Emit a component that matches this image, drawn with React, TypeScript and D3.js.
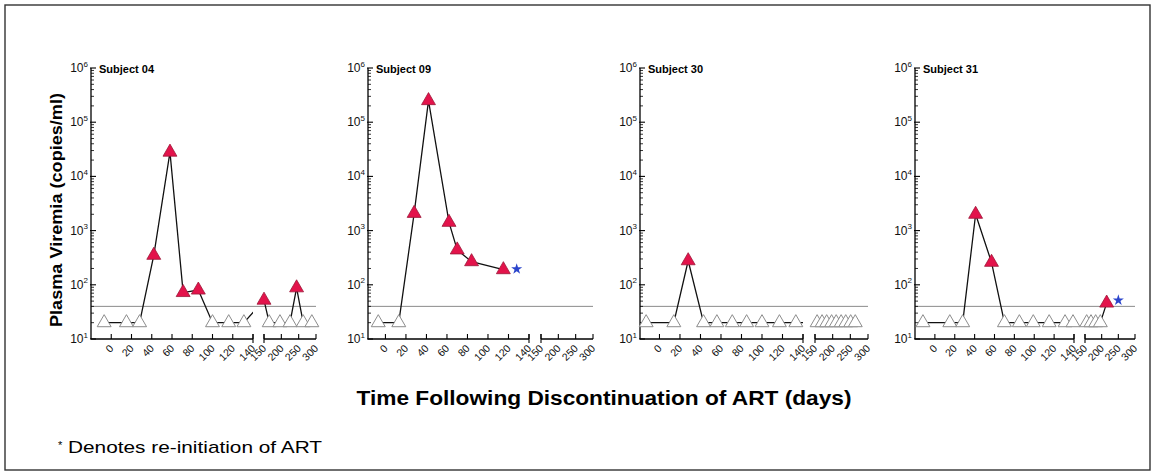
import React from "react";
import * as d3 from "d3";

// ---------- data ----------
const subjectNames = ["Subject 04", "Subject 09", "Subject 30", "Subject 31"];

const s04Days = [-7, 15, 28, 42, 58, 71, 86, 100, 116, 131, 150, 165, 196, 225, 244, 263, 288];
const s04Values = [20, 20, 20, 350, 28000, 72, 80, 20, 20, 20, 52, 20, 20, 20, 88, 20, 20];

const s09Days = [-7, 13, 28, 42, 62, 70, 84, 115];
const s09Values = [20, 20, 2080, 250000, 1420, 440, 267, 190];

const s30Days = [-13, 14, 28, 43, 56, 71, 85, 100, 117, 133, 156, 170, 183, 197, 210, 224, 237, 251, 264];
const s30Values = [20, 20, 278, 20, 20, 20, 20, 20, 20, 20, 20, 20, 20, 20, 20, 20, 20, 20, 20];

const s31Days = [-12, 15, 28, 41, 57, 70, 85, 99, 115, 131, 139, 155, 168, 182, 196, 215];
const s31Values = [20, 20, 20, 2000, 260, 20, 20, 20, 20, 20, 20, 20, 20, 20, 20, 46];

const reinitDays = [null, 128, null, 250];
const reinitValues = [null, 195, null, 52];

const detectionLimit = 40;
const xTicksLow = [0, 20, 40, 60, 80, 100, 120, 140];
const xTicksHigh = [150, 200, 250, 300];
const yMajorTicks = [10, 100, 1000, 10000, 100000, 1000000];

const allDays = [s04Days, s09Days, s30Days, s31Days];
const allValues = [s04Values, s09Values, s30Values, s31Values];

// ---------- layout ----------
const W = 1155;
const H = 475;
const panelLeft = [91, 368, 640, 915];
const seg1End = [253, 529, 803, 1074];
const seg2Start = [264, 541, 815, 1085];
const seg2End = [316, 593, 868, 1135];
const domainStart = [-20, -17, -19, -20];
const yTop = 68;
const yBottom = 339;
const FONT = "'Liberation Sans', Arial, Helvetica, sans-serif";
const RED = "#e3134b";

const y = d3.scaleLog().domain([10, 1e6]).range([yBottom, yTop]);

function makeX(i: number) {
  const s1 = d3.scaleLinear().domain([domainStart[i], 140]).range([panelLeft[i], seg1End[i]]);
  const s2 = d3.scaleLinear().domain([150, 300]).range([seg2Start[i], seg2End[i]]);
  const f = (d: number) =>
    d <= 140 ? s1(d) : d >= 150 ? s2(d) : s1(140) + ((d - 140) / 10) * (s2(150) - s1(140));
  return { s1, s2, f };
}

const triangle = d3.symbol().type(d3.symbolTriangle).size(84);
const star = d3.symbol().type(d3.symbolStar).size(38);

function Panel({ i }: { i: number }) {
  const { f } = makeX(i);
  const days = allDays[i];
  const vals = allValues[i];
  const pts = days.map((d, k) => ({ d, v: vals[k] }));
  const line = d3
    .line<{ d: number; v: number }>()
    .x((p) => f(p.d))
    .y((p) => y(p.v));
  const left = panelLeft[i];
  const minor: number[] = [];
  for (let e = 1; e < 6; e++) {
    for (let m = 2; m <= 9; m++) minor.push(m * Math.pow(10, e));
  }
  const clipId = `clip${i}`;
  return (
    <g>
      <defs>
        <clipPath id={clipId}>
          <rect x={left - 30} y={40} width={seg1End[i] - left + 30} height={320} />
          <rect x={seg2Start[i] - 1} y={40} width={seg2End[i] - seg2Start[i] + 30} height={320} />
        </clipPath>
      </defs>
      {/* detection limit */}
      <line
        x1={left}
        x2={seg2End[i]}
        y1={y(detectionLimit)}
        y2={y(detectionLimit)}
        stroke="#8a8a8a"
        strokeWidth={1}
      />
      {/* y axis */}
      <line x1={left} x2={left} y1={yTop} y2={yBottom} stroke="#000" strokeWidth={1.3} />
      {yMajorTicks.map((t) => (
        <g key={"M" + t}>
          <line x1={left - 1} x2={left + 5} y1={y(t)} y2={y(t)} stroke="#000" strokeWidth={1.1} />
          <text
            x={left - 3}
            y={y(t) + 4}
            textAnchor="end"
            fontFamily={FONT}
            fontSize={12}
            fill="#111"
          >
            10
            <tspan dy={-5.5} fontSize={8}>
              {String(Math.round(Math.log10(t)))}
            </tspan>
          </text>
        </g>
      ))}
      {minor.map((t) => (
        <line key={"m" + t} x1={left} x2={left + 3} y1={y(t)} y2={y(t)} stroke="#000" strokeWidth={0.8} />
      ))}
      {/* x axis */}
      <line x1={left} x2={seg1End[i]} y1={yBottom} y2={yBottom} stroke="#000" strokeWidth={1.3} />
      <line x1={seg2Start[i]} x2={seg2End[i]} y1={yBottom} y2={yBottom} stroke="#000" strokeWidth={1.3} />
      <line x1={seg1End[i]} x2={seg1End[i]} y1={yBottom - 5} y2={yBottom + 4} stroke="#000" strokeWidth={1.1} />
      <line x1={seg2Start[i]} x2={seg2Start[i]} y1={yBottom - 5} y2={yBottom + 4} stroke="#000" strokeWidth={1.1} />
      {[...xTicksLow, ...xTicksHigh].map((t) => (
        <g key={"x" + t}>
          <line x1={f(t)} x2={f(t)} y1={yBottom} y2={yBottom - 5} stroke="#000" strokeWidth={1.1} />
          <text
            transform={`translate(${f(t) + 3},${yBottom + 10}) rotate(-45)`}
            textAnchor="end"
            fontFamily={FONT}
            fontSize={10.5}
            fill="#111"
          >
            {t}
          </text>
        </g>
      ))}
      {/* subject label */}
      <text x={left + 8} y={73} fontFamily={FONT} fontSize={11} fontWeight="bold" fill="#000">
        {subjectNames[i]}
      </text>
      {/* data line */}
      <path d={line(pts) || ""} fill="none" stroke="#111" strokeWidth={1.3} clipPath={`url(#${clipId})`} />
      {/* points */}
      {pts.map((p, k) => {
        const det = p.v >= detectionLimit;
        return (
          <path
            key={"p" + k}
            d={triangle() || ""}
            transform={`translate(${f(p.d)},${y(p.v)})`}
            fill={det ? RED : "#fff"}
            stroke={det ? "#9c1838" : "#8c8c8c"}
            strokeWidth={det ? 0.8 : 1}
          />
        );
      })}
      {reinitDays[i] != null && (
        <path
          d={star() || ""}
          transform={`translate(${f(reinitDays[i] as number)},${y(reinitValues[i] as number)})`}
          fill="#2b45cc"
        />
      )}
    </g>
  );
}

export default function App() {
  return (
    <svg
      width={W}
      height={H}
      viewBox={`0 0 ${W} ${H}`}
      style={{ position: "absolute", left: 0, top: 0, background: "#fff" }}
    >
      <rect x={0} y={0} width={W} height={H} fill="#fff" />
      <rect x={5} y={5} width={1145} height={465} fill="none" stroke="#333" strokeWidth={1.4} />
      {subjectNames.map((_, i) => (
        <Panel key={i} i={i} />
      ))}
      <text
        transform="translate(62,210) rotate(-90)"
        textAnchor="middle"
        fontFamily={FONT}
        fontSize={17}
        fontWeight="bold"
        fill="#000"
        textLength={234}
        lengthAdjust="spacingAndGlyphs"
      >
        Plasma Viremia (copies/ml)
      </text>
      <text
        x={604}
        y={405}
        textAnchor="middle"
        fontFamily={FONT}
        fontSize={20}
        fontWeight="bold"
        fill="#000"
        textLength={495}
        lengthAdjust="spacingAndGlyphs"
      >
        Time Following Discontinuation of ART (days)
      </text>
      <text x={58} y={449} fontFamily={FONT} fontSize={11} fill="#000">
        *
      </text>
      <text
        x={68}
        y={453}
        fontFamily={FONT}
        fontSize={17}
        fill="#000"
        textLength={254}
        lengthAdjust="spacingAndGlyphs"
      >
        Denotes re-initiation of ART
      </text>
    </svg>
  );
}
